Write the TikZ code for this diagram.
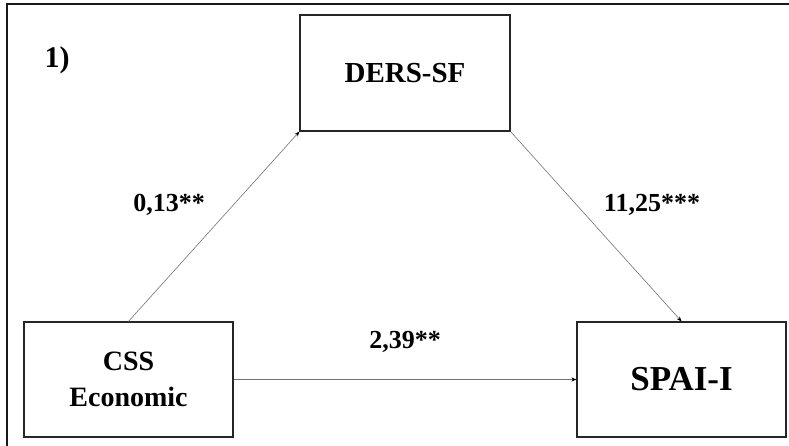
\documentclass[tikz,border=0pt]{standalone}
\usepackage{fontspec}
\setmainfont{Liberation Serif}
\usetikzlibrary{arrows.meta}
\begin{document}
\begin{tikzpicture}[x=1pt,y=-1pt,
  varbox/.style={draw=black!85,line width=1.2pt,minimum width=209pt,minimum height=115pt,
    inner sep=0pt,align=center,font=\bfseries\fontsize{28}{37}\selectfont},
  path/.style={draw=black!55,line width=0.6pt,-{Stealth[length=5pt,width=4pt,black]}},
  coef/.style={font=\bfseries\fontsize{26}{30}\selectfont,inner sep=0pt},
  frame/.style={line width=2pt,black!90}]
\useasboundingbox (0,0) rectangle (789,446);
% outer frame (top and left edges)
\coordinate (fbl) at (6.5,446);
\coordinate (ftl) at (6.5,4.5);
\coordinate (ftr) at (789,4.5);
\draw[frame] (fbl) -- (ftl) -- (ftr);
% variables
\node[varbox,font=\bfseries\fontsize{29}{37}\selectfont,minimum width=210pt,minimum height=116pt] (ders) at (405,73) {DERS-SF};
\node[varbox] (css) at (128.5,379.5) {CSS\\[-1pt]Economic};
\node[varbox,font=\bfseries\fontsize{35}{40}\selectfont] (spai) at (681.5,379.5) {SPAI-I};
% paths
\draw[path] (css.north) -- (ders.south west);
\draw[path] (ders.south east) -- (spai.north);
\draw[path] (css.east) -- (spai.west);
% coefficients
\node[coef] (a) at (169,205) {0,13**};
\node[coef] (b) at (652,205) {11,25***};
\node[coef] (c) at (405,342) {2,39**};
\node[font=\bfseries\fontsize{30}{34}\selectfont,inner sep=0pt] (lbl) at (57,60) {1)};
\end{tikzpicture}
\end{document}
